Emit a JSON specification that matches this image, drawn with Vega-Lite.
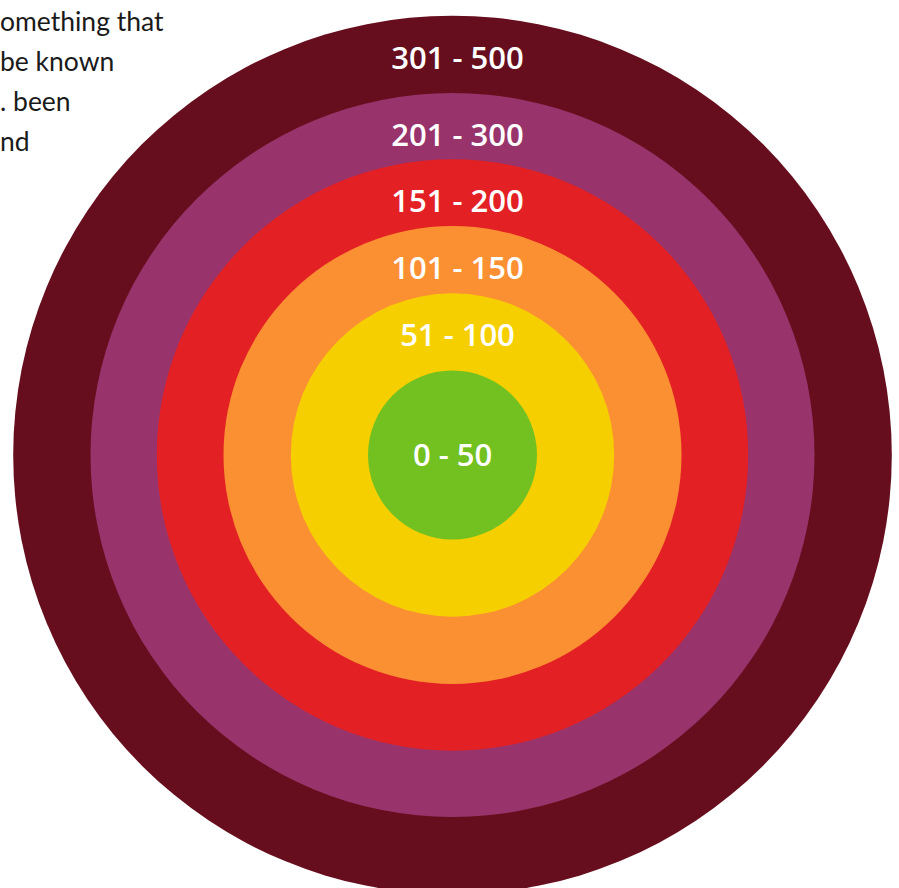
{
  "$schema": "https://vega.github.io/schema/vega-lite/v6.json",
  "width": 893,
  "height": 866,
  "autosize": {"type": "none"},
  "padding": {"left": 6, "top": 22, "right": 0, "bottom": 0},
  "background": "white",
  "config": {"view": {"stroke": null}},
  "datasets": {
    "bands": [
      {"band": "301 - 500", "hi": 500},
      {"band": "201 - 300", "hi": 300},
      {"band": "151 - 200", "hi": 200},
      {"band": "101 - 150", "hi": 150},
      {"band": "51 - 100", "hi": 100},
      {"band": "0 - 50", "hi": 50}
    ],
    "note": [
      {"line": 1, "t": "omething that"},
      {"line": 2, "t": "be known"},
      {"line": 3, "t": ". been"},
      {"line": 4, "t": "nd"}
    ]
  },
  "layer": [
    {
      "data": {"name": "bands"},
      "mark": {"type": "arc", "theta": 0, "theta2": 6.2832},
      "encoding": {
        "radius": {
          "field": "hi",
          "type": "quantitative",
          "stack": null,
          "scale": {"type": "linear", "nice": false, "domain": [0, 50, 100, 150, 200, 300, 500], "range": [0, 84.5, 161.7, 229, 295.7, 362, 439.3]}
        },
        "color": {
          "field": "band",
          "type": "nominal",
          "legend": null,
          "scale": {
            "domain": ["0 - 50", "51 - 100", "101 - 150", "151 - 200", "201 - 300", "301 - 500"],
            "range": ["#72c120", "#f6cf00", "#fb9033", "#e32024", "#98346b", "#660e1e"]
          }
        }
      }
    },
    {
      "data": {"name": "bands"},
      "transform": [{"filter": "datum.hi > 50"}],
      "mark": {"type": "text", "theta": 0, "radiusOffset": -44, "dx": 5, "font": "Open Sans", "fontWeight": 600, "fontSize": 31, "color": "white", "baseline": "middle", "align": "center"},
      "encoding": {
        "radius": {"field": "hi", "type": "quantitative", "stack": null},
        "text": {"field": "band", "type": "nominal"}
      }
    },
    {
      "data": {"name": "bands"},
      "transform": [{"filter": "datum.hi == 50"}],
      "mark": {"type": "text", "dy": 2, "font": "Open Sans", "fontWeight": 600, "fontSize": 31, "color": "white", "baseline": "middle", "align": "center"},
      "encoding": {
        "text": {"field": "band", "type": "nominal"}
      }
    },
    {
      "data": {"name": "note"},
      "mark": {"type": "text", "font": "Lato", "fontSize": 26.5, "color": "#1a1a1a", "align": "left", "baseline": "alphabetic"},
      "encoding": {
        "x": {"value": -6},
        "y": {"field": "line", "type": "quantitative", "axis": null, "scale": {"domain": [1, 4], "range": [9, 129]}},
        "text": {"field": "t", "type": "nominal"}
      }
    }
  ]
}
